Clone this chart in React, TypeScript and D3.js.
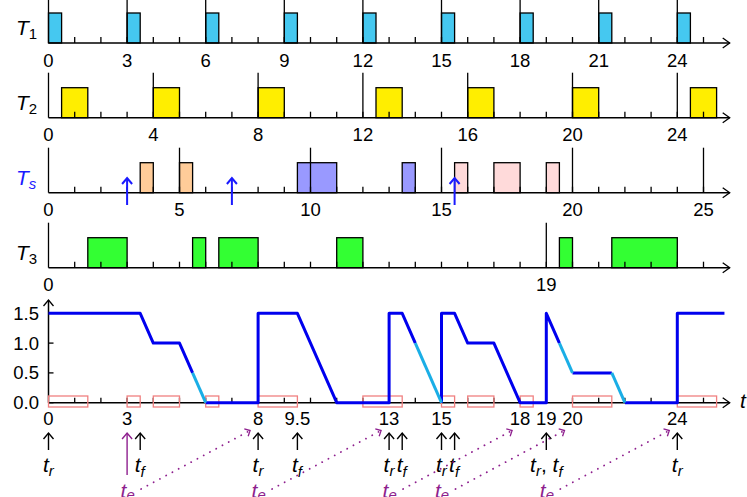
import React from 'react';
import * as d3 from 'd3';

const W = 747;
const H = 497;

// ---------- data ----------
const t1Jobs: [number, number][] = [[0, 0.5], [3, 3.5], [6, 6.5], [9, 9.5], [12, 12.5], [15, 15.5], [18, 18.5], [21, 21.5], [24, 24.5]];
const t1Ticks = [0, 3, 6, 9, 12, 15, 18, 21, 24];

const t2Jobs: [number, number][] = [[0.5, 1.5], [4, 5], [8, 9], [12.5, 13.5], [16, 17], [20, 21], [24.5, 25.5]];
const t2Ticks = [0, 4, 8, 12, 16, 20, 24];

const tsJobs: { s: number; e: number; k: string }[] = [
  { s: 3.5, e: 4, k: 'a' }, { s: 5, e: 5.5, k: 'a' },
  { s: 9.5, e: 11, k: 'b' }, { s: 13.5, e: 14, k: 'b' },
  { s: 15.5, e: 16, k: 'c' }, { s: 17, e: 18, k: 'c' }, { s: 19, e: 19.5, k: 'c' },
];
const tsTicks = [0, 5, 10, 15, 20, 25];
const tsArrivals = [3, 7, 15.5];

const t3Jobs: [number, number][] = [[1.5, 3], [5.5, 6], [6.5, 8], [11, 12], [19.5, 20], [21.5, 24]];
const t3Ticks = [0, 19];

const budgetDark: [number, number][][] = [
  [[0, 1.5], [3.5, 1.5], [4, 1.0], [5, 1.0], [5.5, 0.5]],
  [[6, 0], [8, 0], [8, 1.5], [9.5, 1.5], [11, 0], [13, 0], [13, 1.5], [13.5, 1.5], [14, 1.0]],
  [[15, 0], [15, 1.5], [15.5, 1.5], [16, 1.0], [17, 1.0], [18, 0], [19, 0], [19, 1.5], [19.5, 1.0]],
  [[20, 0.5], [21.5, 0.5]],
  [[22, 0], [24, 0], [24, 1.5], [25.8, 1.5]],
];
const budgetLight: [number, number][][] = [
  [[5.5, 0.5], [6, 0]],
  [[14, 1.0], [15, 0]],
  [[19.5, 1.0], [20, 0.5]],
  [[21.5, 0.5], [22, 0]],
];

const busyIntervals: [number, number][] = [[0, 1.5], [3, 3.5], [4, 5], [6, 6.5], [8, 9.5], [12, 13.5], [15, 15.5], [16, 17], [18, 18.5], [20, 21.5], [24, 25.5]];
const bottomTicks = [0, 3, 8, 9.5, 13, 15, 18, 19, 20, 24];
const bottomTickLabels = ['0', '3', '8', '9.5', '13', '15', '18', '19', '20', '24'];
const yTicks = [0, 0.5, 1.0, 1.5];
const yTickLabels = ['0.0', '0.5', '1.0', '1.5'];

const events: { x: number; l: string }[] = [
  { x: 0, l: 'r' }, { x: 3.5, l: 'f' }, { x: 8, l: 'r' }, { x: 9.5, l: 'f' },
  { x: 13, l: 'r' }, { x: 13.5, l: 'f' }, { x: 15, l: 'r' }, { x: 15.5, l: 'f' },
  { x: 19, l: 'rf' }, { x: 24, l: 'r' },
];
const teLinks: { from: number; to: number }[] = [
  { from: 3, to: 8 }, { from: 8, to: 13 }, { from: 13, to: 18 }, { from: 15, to: 20 }, { from: 19, to: 24 },
];
const teArrow = 3;

// ---------- styles ----------
const FONT = '"Liberation Sans", Arial, Helvetica, sans-serif';
const PURPLE = '#8E1F8E';
const BLUE = '#1a1aff';
const tsColors: Record<string, string> = { a: '#FFCC99', b: '#9999FF', c: '#FFDADA' };

const x = d3.scaleLinear().domain([0, 24]).range([48.5, 677.3]);
const axisEnd = x(26);
const y = d3.scaleLinear().domain([0, 1.5]).range([402.7, 313.3]);
const intTicks = d3.range(1, 26);

function RowAxis({ base, tall, labels }: { base: number; tall: number[]; labels: number[] }) {
  return (
    <g>
      <line x1={x(0)} x2={axisEnd} y1={base} y2={base} stroke="#000" strokeWidth={1.5} />
      <polyline points={`${axisEnd - 7},${base - 5} ${axisEnd},${base} ${axisEnd - 7},${base + 5}`} fill="none" stroke="#000" strokeWidth={1.3} />
      {intTicks.map((t) => (
        <line key={t} x1={x(t)} x2={x(t)} y1={base} y2={base - 6} stroke="#000" strokeWidth={1.3} />
      ))}
      {tall.map((t) => (
        <line key={'t' + t} x1={x(t)} x2={x(t)} y1={base} y2={base - 45} stroke="#000" strokeWidth={1.3} />
      ))}
      {labels.map((t) => (
        <text key={'l' + t} x={x(t)} y={base + 23.7} textAnchor="middle" fontSize={18.5} fontFamily={FONT}>{t}</text>
      ))}
    </g>
  );
}

function Bars({ base, jobs, fill }: { base: number; jobs: [number, number][]; fill: string }) {
  return (
    <g>
      {jobs.map(([s, e], i) => (
        <rect key={i} x={x(s)} y={base - 30} width={x(e) - x(s)} height={30} fill={fill} stroke="#000" strokeWidth={1.3} />
      ))}
    </g>
  );
}

function RowLabel({ base, sub, color, subItalic }: { base: number; sub: string; color: string; subItalic: boolean }) {
  return (
    <text x={16} y={base - 8} fontSize={21} fontFamily={FONT} fill={color}>
      <tspan fontStyle="italic">T</tspan>
      <tspan dy={4} fontSize={15} fontStyle={subItalic ? 'italic' : 'normal'}>{sub}</tspan>
    </text>
  );
}

function UpArrow({ xp, y1, y2, color, w }: { xp: number; y1: number; y2: number; color: string; w: number }) {
  return (
    <g>
      <line x1={xp} x2={xp} y1={y1} y2={y2} stroke={color} strokeWidth={w} />
      <polyline points={`${xp - 5},${y2 + 6} ${xp},${y2} ${xp + 5},${y2 + 6}`} fill="none" stroke={color} strokeWidth={w} />
    </g>
  );
}

export default function App() {
  const line = d3.line<[number, number]>().x((d) => x(d[0])).y((d) => y(d[1]));
  const r1 = 43, r2 = 117.7, r3 = 192.7, r4 = 267.7;
  const b0 = y(0);
  return (
    <svg width={W} height={H} style={{ position: 'absolute', left: 0, top: 0, background: '#fff' }} fontFamily={FONT}>
      {/* T1 */}
      <Bars base={r1} jobs={t1Jobs} fill="#45C8F0" />
      <RowAxis base={r1} tall={t1Ticks} labels={t1Ticks} />
      <RowLabel base={r1} sub="1" color="#000" subItalic={false} />
      {/* T2 */}
      <Bars base={r2} jobs={t2Jobs} fill="#FFEE00" />
      <RowAxis base={r2} tall={t2Ticks} labels={t2Ticks} />
      <RowLabel base={r2} sub="2" color="#000" subItalic={false} />
      {/* Ts */}
      {tsJobs.map((j, i) => (
        <rect key={i} x={x(j.s)} y={r3 - 30} width={x(j.e) - x(j.s)} height={30} fill={tsColors[j.k]} stroke="#000" strokeWidth={1.3} />
      ))}
      <RowAxis base={r3} tall={tsTicks} labels={tsTicks} />
      <RowLabel base={r3} sub="s" color={BLUE} subItalic={true} />
      {tsArrivals.map((a) => (
        <UpArrow key={a} xp={x(a)} y1={205} y2={178} color={BLUE} w={2} />
      ))}
      {/* T3 */}
      <Bars base={r4} jobs={t3Jobs} fill="#33FF33" />
      <RowAxis base={r4} tall={t3Ticks} labels={t3Ticks} />
      <RowLabel base={r4} sub="3" color="#000" subItalic={false} />

      {/* bottom plot */}
      <line x1={x(0)} x2={axisEnd} y1={b0} y2={b0} stroke="#000" strokeWidth={1.5} />
      <polyline points={`${axisEnd - 7},${b0 - 5} ${axisEnd},${b0} ${axisEnd - 7},${b0 + 5}`} fill="none" stroke="#000" strokeWidth={1.3} />
      <text x={740} y={408} fontSize={21} fontStyle="italic">t</text>
      {intTicks.map((t) => (
        <line key={t} x1={x(t)} x2={x(t)} y1={b0} y2={b0 - 5} stroke="#000" strokeWidth={1.3} />
      ))}
      <line x1={x(0)} x2={x(0)} y1={b0} y2={300} stroke="#000" strokeWidth={1.5} />
      <polyline points={`${x(0) - 5},${306} ${x(0)},${300} ${x(0) + 5},${306}`} fill="none" stroke="#000" strokeWidth={1.3} />
      {yTicks.map((t, i) => (
        <g key={t}>
          <line x1={x(0)} x2={x(0) + 5} y1={y(t)} y2={y(t)} stroke="#000" strokeWidth={1.3} />
          <text x={39} y={y(t) + 6.5} textAnchor="end" fontSize={18.5}>{yTickLabels[i]}</text>
        </g>
      ))}
      {bottomTicks.map((t, i) => (
        <text key={t} x={x(t)} y={b0 + 22.5} textAnchor="middle" fontSize={18.5}>{bottomTickLabels[i]}</text>
      ))}
      {busyIntervals.map(([s, e], i) => (
        <rect key={i} x={x(s)} y={396} width={x(e) - x(s)} height={11} fill="none" stroke="#F08080" strokeWidth={1.3} />
      ))}
      {budgetDark.map((seg, i) => (
        <path key={'d' + i} d={line(seg) || ''} fill="none" stroke="#0000EE" strokeWidth={3} strokeLinejoin="round" />
      ))}
      {budgetLight.map((seg, i) => (
        <path key={'l' + i} d={line(seg) || ''} fill="none" stroke="#1AAEE6" strokeWidth={3} />
      ))}

      {/* events */}
      {events.map((ev) => (
        <g key={ev.x}>
          <UpArrow xp={x(ev.x)} y1={450} y2={433} color="#000" w={1.4} />
          {ev.l === 'rf' ? (
            <text x={x(ev.x)} y={472} textAnchor="middle" fontSize={21}>
              <tspan fontStyle="italic">t</tspan>
              <tspan dy={4} fontSize={15} fontStyle="italic">r</tspan>
              <tspan dy={-4}>, </tspan>
              <tspan fontStyle="italic">t</tspan>
              <tspan dy={5} fontSize={15} fontStyle="italic">f</tspan>
            </text>
          ) : (
            <text x={x(ev.x) - 5.5} y={472} fontSize={21}>
              <tspan fontStyle="italic">t</tspan>
              <tspan dy={ev.l === 'f' ? 5 : 4} fontSize={15} fontStyle="italic">{ev.l}</tspan>
            </text>
          )}
        </g>
      ))}
      <UpArrow xp={x(teArrow)} y1={475} y2={433} color={PURPLE} w={1.4} />
      {teLinks.map((l) => {
        const sx = x(l.from) + 14, sy = 489;
        const ex = x(l.to) - 8, ey = 430.5;
        const ang = Math.atan2(ey - sy, ex - sx);
        const back = ang + Math.PI;
        const a1 = back + 0.75, a2 = back - 0.75;
        return (
          <g key={l.from}>
            <line x1={sx} y1={sy} x2={ex} y2={ey} stroke={PURPLE} strokeWidth={1.8} strokeDasharray="0.1 7" strokeLinecap="round" />
            <polyline points={`${ex + 6 * Math.cos(a1)},${ey + 6 * Math.sin(a1)} ${ex},${ey} ${ex + 6 * Math.cos(a2)},${ey + 6 * Math.sin(a2)}`} fill="none" stroke={PURPLE} strokeWidth={1.3} />
            <text x={x(l.from) - 6.5} y={498} fontSize={21} fill={PURPLE}>
              <tspan fontStyle="italic">t</tspan>
              <tspan dy={2} fontSize={15} fontStyle="italic">e</tspan>
            </text>
          </g>
        );
      })}
    </svg>
  );
}
